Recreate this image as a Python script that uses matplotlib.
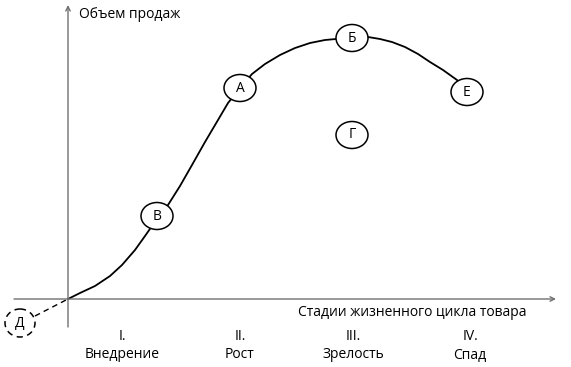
import matplotlib.pyplot as plt
from matplotlib.patches import Ellipse

plt.rcParams['font.family'] = ['Open Sans', 'DejaVu Sans']

# curve of sales volume (picture coords, y downwards)
curve_x = [68, 80, 95, 110, 122, 135, 145, 152, 157, 168, 180, 192, 205, 218, 228, 240,
           252, 265, 280, 295, 310, 325, 336, 352, 368, 380, 392, 405, 418, 430, 443, 457, 467]
curve_y = [299, 293, 286, 276, 265, 250, 236, 226, 216, 205, 186, 165, 142, 120, 103, 88,
           74, 64, 55, 48, 43, 40, 39, 38, 37, 39, 42, 47, 54, 62, 70, 80, 92]

# labelled points on the chart
point_names = ['В', 'А', 'Б', 'Е', 'Г']
point_x = [157, 240, 352, 467, 352]
point_y = [216, 88, 38, 92, 135]

# stage labels
stage_nums = ['I.', 'II.', 'III.', 'IV.']
stage_names = ['Внедрение', 'Рост', 'Зрелость', 'Спад']
stage_x = [122, 240, 353, 470]

origin = (68, 299)
d_point = (20, 323)

fig = plt.figure(figsize=(5.71, 3.67), dpi=100)
ax = fig.add_axes([0, 0, 1, 1])
ax.set_xlim(0, 571)
ax.set_ylim(367, 0)
ax.axis('off')

fs = 10
axis_col = '#707070'
# axes with arrows
ax.annotate('', xy=(556, origin[1]), xytext=(14, origin[1]),
            arrowprops=dict(arrowstyle='->', color=axis_col, lw=1.0, shrinkA=0, shrinkB=0,
                            mutation_scale=8))
ax.annotate('', xy=(origin[0], 5), xytext=(origin[0], 327),
            arrowprops=dict(arrowstyle='->', color=axis_col, lw=1.0, shrinkA=0, shrinkB=0,
                            mutation_scale=8))

ax.plot(curve_x, curve_y, color='black', lw=1.3, zorder=2, solid_joinstyle='round')

for n, x, y in zip(point_names, point_x, point_y):
    ax.add_patch(Ellipse((x, y), 32, 27, facecolor='white', edgecolor='black', lw=1.1, zorder=3))
    ax.text(x, y, n, ha='center', va='center', fontsize=fs, zorder=4)

# dashed point Д
ax.plot([35, origin[0]], [316, origin[1]], color='black', lw=1.0, ls=(0, (4, 3)))
ax.add_patch(Ellipse(d_point, 30, 28, facecolor='white', edgecolor='black', lw=1.1,
                     ls=(0, (4, 3)), zorder=3))
ax.text(d_point[0], d_point[1], 'Д', ha='center', va='center', fontsize=fs, zorder=4)

ax.text(79, 14, 'Объем продаж', ha='left', va='center', fontsize=fs)
ax.text(412, 313, 'Стадии жизненного цикла товара', ha='center', va='center', fontsize=fs)

for num, name, x in zip(stage_nums, stage_names, stage_x):
    ax.text(x, 337, num, ha='center', va='center', fontsize=fs)
    ax.text(x, 355, name, ha='center', va='center', fontsize=fs)

fig.savefig('out.png', dpi=100, facecolor='white')
